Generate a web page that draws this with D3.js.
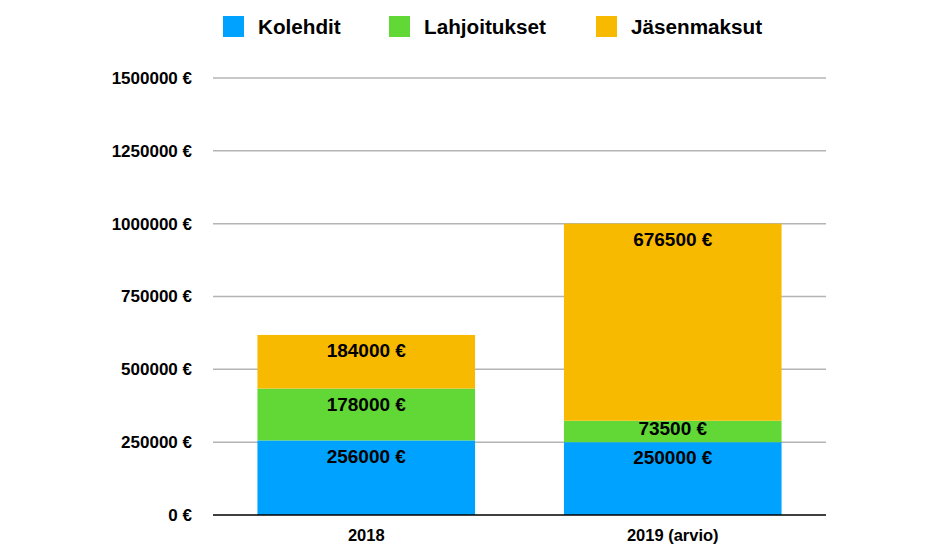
<!DOCTYPE html>
<html><head><meta charset="utf-8">
<script src="https://cdn.jsdelivr.net/npm/d3@7"></script>
<style>body{margin:0;background:#fff}svg{display:block}text{font-family:"Liberation Sans",Arial,Helvetica,sans-serif;font-weight:bold;fill:#000}</style>
</head><body><svg id="c" width="950" height="560"></svg>
<script>
const categories = ["2018", "2019 (arvio)"];
const seriesNames = ["Kolehdit", "Lahjoitukset", "Jäsenmaksut"];
const kolehdit = [256000, 250000];
const lahjoitukset = [178000, 73500];
const jasenmaksut = [184000, 676500];
const tickValues = [0, 250000, 500000, 750000, 1000000, 1250000, 1500000];
const colors = ["#00a2ff", "#61d836", "#f8ba00"];

const svg = d3.select("#c");
const x0 = 213, x1 = 826, yTop = 78, yBot = 515;
const x = d3.scaleBand().domain(categories).range([x0, x1]).paddingInner(0.29).paddingOuter(0.145);
const y = d3.scaleLinear().domain([0, 1500000]).range([yBot, yTop]);

const rows = categories.map((c, i) => ({cat: c, Kolehdit: kolehdit[i], Lahjoitukset: lahjoitukset[i], "Jäsenmaksut": jasenmaksut[i]}));
const stacked = d3.stack().keys(seriesNames)(rows);

// grid
svg.append("g").selectAll("line").data(tickValues.filter(t => t > 0)).join("line")
  .attr("x1", x0).attr("x2", x1).attr("y1", d => y(d)).attr("y2", d => y(d))
  .attr("stroke", "#b4b4b4").attr("stroke-width", 1.5);

const fontStyle = sel => sel.style("font-family", '"Liberation Sans",Arial,sans-serif').style("font-weight", "bold").attr("fill", "#000");

// y axis labels
const yAxis = d3.axisLeft(y).tickValues(tickValues).tickSize(0).tickPadding(21).tickFormat(d => d + " €");
const ga = svg.append("g").attr("transform", `translate(${x0},0)`).call(yAxis);
ga.select(".domain").remove();
ga.selectAll("text").style("font-size", "17px").call(fontStyle);

// bars
const layers = svg.append("g").selectAll("g").data(stacked).join("g").attr("fill", (d, i) => colors[i]);
layers.selectAll("rect").data(d => d).join("rect")
  .attr("x", d => x(d.data.cat)).attr("width", x.bandwidth())
  .attr("y", d => y(d[1])).attr("height", d => y(d[0]) - y(d[1]));

// value labels
stacked.forEach(layer => {
  layer.forEach(d => {
    const top = y(d[1]), bot = y(d[0]);
    const cy = Math.min(top + 15.5, top + (bot - top) / 3);
    svg.append("text").attr("x", x(d.data.cat) + x.bandwidth() / 2).attr("y", cy)
      .attr("text-anchor", "middle").attr("dy", "0.35em")
      .style("font-size", "19px").text(d[1] - d[0] + " €");
  });
});

// baseline
svg.append("line").attr("x1", x0).attr("x2", x1).attr("y1", y(0)).attr("y2", y(0)).attr("stroke", "#000").attr("stroke-width", 1.5);

// x axis labels
const xAxis = d3.axisBottom(x).tickSize(0).tickPadding(14);
const gx = svg.append("g").attr("transform", `translate(0,${yBot})`).call(xAxis);
gx.select(".domain").remove();
gx.selectAll("text").style("font-size", "16.5px").call(fontStyle);

// legend
const legendX = [223, 389, 596];
const lg = svg.append("g").selectAll("g").data(seriesNames).join("g")
  .attr("transform", (d, i) => `translate(${legendX[i]},16)`);
lg.append("rect").attr("width", 21).attr("height", 21).attr("fill", (d, i) => colors[i]);
lg.append("text").attr("x", 35).attr("y", 10.5).attr("dy", "0.35em").style("font-size", "20.7px").text(d => d);
</script></body></html>
